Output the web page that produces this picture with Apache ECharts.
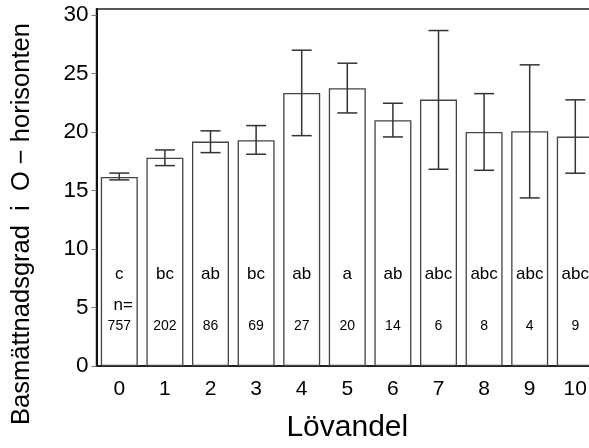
<!DOCTYPE html>
<html>
<head>
<meta charset="utf-8">
<script src="https://cdn.jsdelivr.net/npm/echarts@6/dist/echarts.min.js"></script>
<style>
  html, body { margin: 0; padding: 0; background: #fff; }
  #chart { width: 589px; height: 448px; }
</style>
</head>
<body>
<div id="chart"></div>
<script>
// Basal saturation in the O horizon by deciduous share class
const categories = ['0', '1', '2', '3', '4', '5', '6', '7', '8', '9', '10'];
const means = [16.15, 17.8, 19.17, 19.29, 23.33, 23.73, 21.0, 22.76, 20.0, 20.06, 19.6];
const lower = [15.9, 17.12, 18.23, 18.09, 19.68, 21.62, 19.57, 16.81, 16.72, 14.36, 16.47];
const upper = [16.48, 18.46, 20.09, 20.54, 26.98, 25.87, 22.45, 28.66, 23.27, 25.73, 22.74];
const groups = ['c', 'bc', 'ab', 'bc', 'ab', 'a', 'ab', 'abc', 'abc', 'abc', 'abc'];
const counts = ['757', '202', '86', '69', '27', '20', '14', '6', '8', '4', '9'];
const yTicks = [0, 5, 10, 15, 20, 25, 30];

// heights (in axis units) at which the annotation rows sit
const GROUP_LEVEL = 7.82;
const NLABEL_LEVEL = 5.2;
const COUNT_LEVEL = 3.39;

const FONT = '"Liberation Sans", Arial, Helvetica, sans-serif';

const chart = echarts.init(document.getElementById('chart'), null, { renderer: 'canvas' });

function textItem(fontSize, dx) {
  return function (params, api) {
    const p = api.coord([api.value(0), api.value(1)]);
    return {
      type: 'text',
      x: p[0] + (dx || 0),
      y: p[1],
      style: {
        text: api.value(2),
        fill: '#000',
        font: fontSize + 'px ' + FONT,
        align: 'center',
        verticalAlign: 'middle'
      }
    };
  };
}

const option = {
  animation: false,
  backgroundColor: '#fff',
  grid: {
    left: 96.5,
    top: 9,
    width: 501.6,
    height: 357,
    show: true,
    borderColor: '#222',
    borderWidth: 1.5,
    backgroundColor: 'transparent',
    containLabel: false,
    outerBoundsMode: 'none'
  },
  xAxis: {
    type: 'category',
    data: categories,
    axisLine: { show: true, lineStyle: { color: '#111', width: 1.5 } },
    axisTick: { show: false },
    axisLabel: { color: '#000', fontSize: 21, fontFamily: FONT, margin: 13 },
    name: 'Lövandel',
    nameLocation: 'middle',
    nameGap: 47,
    nameTextStyle: { color: '#000', fontSize: 30, fontFamily: FONT }
  },
  yAxis: {
    type: 'value',
    min: 0,
    max: 30.5,
    interval: 5,
    splitLine: { show: false },
    axisLine: { show: true, lineStyle: { color: '#111', width: 2 } },
    axisTick: { show: true, length: 5, customValues: yTicks, lineStyle: { color: '#777', width: 1 } },
    axisLabel: { color: '#000', fontSize: 22.5, fontFamily: FONT, margin: 8, customValues: yTicks }
  },
  graphic: [{
    type: 'text',
    x: 22,
    y: 224,
    rotation: Math.PI / 2,
    style: {
      text: 'Basmättnadsgrad  i  O − horisonten',
      fill: '#000',
      font: '25.5px ' + FONT,
      align: 'center',
      verticalAlign: 'middle'
    }
  }],
  series: [
    {
      type: 'bar',
      data: means,
      barWidth: 37,
      itemStyle: { color: '#fff', borderColor: '#444', borderWidth: 1.3 },
      z: 2
    },
    {
      type: 'custom',
      data: categories.map((c, i) => [i, lower[i], upper[i]]),
      renderItem: function (params, api) {
        const lo = api.coord([api.value(0), api.value(1)]);
        const hi = api.coord([api.value(0), api.value(2)]);
        const half = 10;
        const style = { stroke: '#333', lineWidth: 1.5 };
        return {
          type: 'group',
          children: [
            { type: 'line', shape: { x1: lo[0], y1: lo[1], x2: hi[0], y2: hi[1] }, style: style },
            { type: 'line', shape: { x1: hi[0] - half, y1: hi[1], x2: hi[0] + half, y2: hi[1] }, style: style },
            { type: 'line', shape: { x1: lo[0] - half, y1: lo[1], x2: lo[0] + half, y2: lo[1] }, style: style }
          ]
        };
      },
      z: 3
    },
    {
      type: 'custom',
      data: groups.map((g, i) => [i, GROUP_LEVEL, g]),
      renderItem: textItem(17),
      z: 4
    },
    {
      type: 'custom',
      data: [[0, NLABEL_LEVEL, 'n=']],
      renderItem: textItem(17, 4),
      z: 4
    },
    {
      type: 'custom',
      data: counts.map((n, i) => [i, COUNT_LEVEL, n]),
      renderItem: textItem(14),
      z: 4
    }
  ]
};

chart.setOption(option);
</script>
</body>
</html>
